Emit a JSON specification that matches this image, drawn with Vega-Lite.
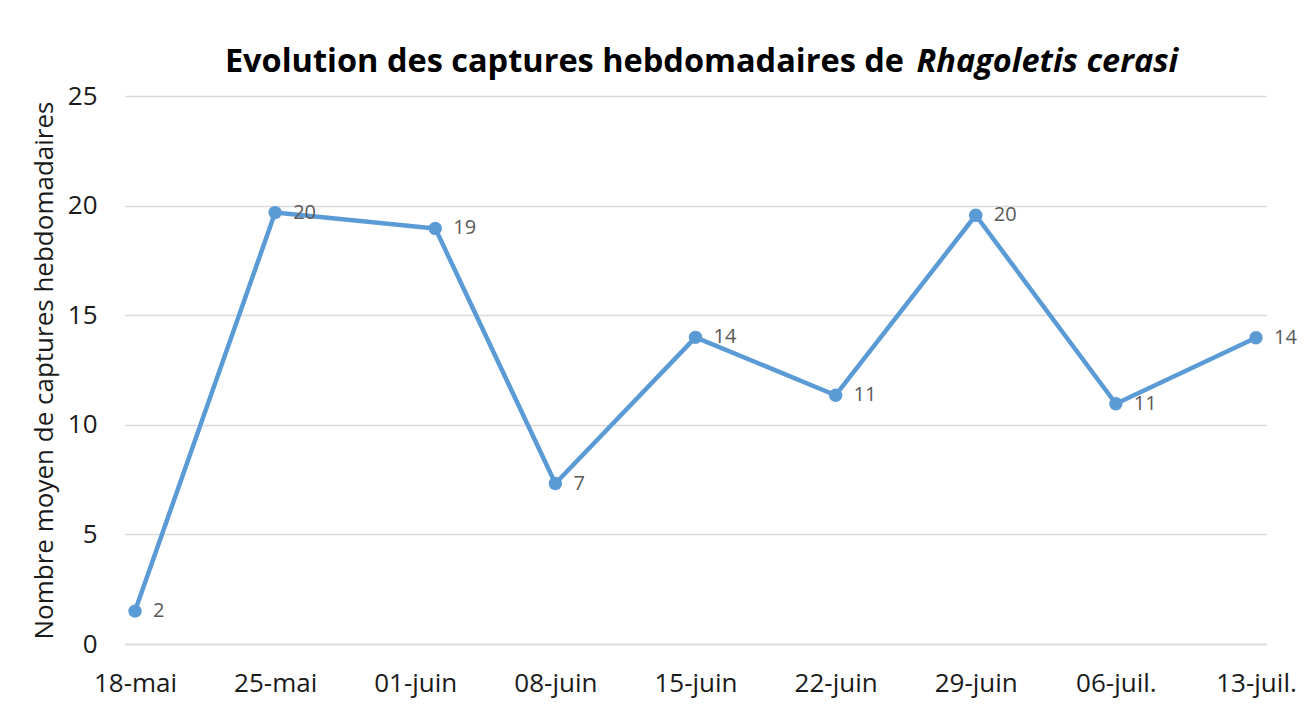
{
  "$schema": "https://vega.github.io/schema/vega-lite/v6.json",
  "width": 1141,
  "height": 548,
  "autosize": {"type": "none"},
  "padding": {"left": 125, "top": 96, "right": 40, "bottom": 71},
  "background": "white",
  "config": {"font": "Open Sans", "view": {"stroke": null}},
  "data": {
    "values": [
      {"date": "2015-05-18", "captures": 1.5},
      {"date": "2015-05-25", "captures": 19.68},
      {"date": "2015-06-02", "captures": 18.96},
      {"date": "2015-06-08", "captures": 7.32},
      {"date": "2015-06-15", "captures": 13.99},
      {"date": "2015-06-22", "captures": 11.35},
      {"date": "2015-06-29", "captures": 19.56},
      {"date": "2015-07-06", "captures": 10.96},
      {"date": "2015-07-13", "captures": 13.97}
    ]
  },
  "layer": [
    {
      "mark": {"type": "line", "color": "#5B9BD5", "strokeWidth": 4.5, "strokeJoin": "round", "strokeCap": "round"},
      "encoding": {
        "x": {
          "field": "date",
          "type": "temporal",
          "scale": {
            "type": "utc",
            "nice": false,
            "domain": [
              {"year": 2015, "month": 5, "date": 17, "hours": 12, "utc": true},
              {"year": 2015, "month": 7, "date": 13, "hours": 12, "utc": true}
            ]
          },
          "axis": {
            "values": [
              {"year": 2015, "month": 5, "date": 18, "utc": true},
              {"year": 2015, "month": 5, "date": 25, "utc": true},
              {"year": 2015, "month": 6, "date": 1, "utc": true},
              {"year": 2015, "month": 6, "date": 8, "utc": true},
              {"year": 2015, "month": 6, "date": 15, "utc": true},
              {"year": 2015, "month": 6, "date": 22, "utc": true},
              {"year": 2015, "month": 6, "date": 29, "utc": true},
              {"year": 2015, "month": 7, "date": 6, "utc": true},
              {"year": 2015, "month": 7, "date": 13, "utc": true}
            ],
            "labelExpr": "utcFormat(datum.value, '%d') + '-' + (utcmonth(datum.value) == 4 ? 'mai' : utcmonth(datum.value) == 5 ? 'juin' : 'juil.')",
            "title": null,
            "grid": false,
            "ticks": false,
            "domainColor": "#d9d9d9",
            "domainWidth": 1.3,
            "labelFont": "Open Sans",
            "labelFontSize": 26,
            "labelColor": "#1a1a1a",
            "labelPadding": 26,
            "labelFlush": false,
            "labelOverlap": false
          }
        },
        "y": {
          "field": "captures",
          "type": "quantitative",
          "scale": {"domain": [0, 25], "nice": false},
          "axis": {
            "values": [0, 5, 10, 15, 20, 25],
            "title": "Nombre moyen de captures hebdomadaires",
            "titleFont": "Open Sans",
            "titleFontSize": 26,
            "titleFontWeight": "normal",
            "titleColor": "#1a1a1a",
            "titlePadding": 10,
            "grid": true,
            "gridColor": "#d9d9d9",
            "gridWidth": 1.3,
            "domain": false,
            "ticks": false,
            "labelFont": "Open Sans",
            "labelFontSize": 26,
            "labelColor": "#1a1a1a",
            "labelPadding": 28
          }
        }
      }
    },
    {
      "mark": {"type": "point", "filled": true, "size": 180, "color": "#5B9BD5", "opacity": 1},
      "encoding": {
        "x": {"field": "date", "type": "temporal"},
        "y": {"field": "captures", "type": "quantitative"}
      }
    },
    {
      "mark": {"type": "text", "align": "left", "baseline": "middle", "dx": 18, "fontSize": 20, "color": "#595959", "font": "Open Sans"},
      "encoding": {
        "x": {"field": "date", "type": "temporal"},
        "y": {"field": "captures", "type": "quantitative"},
        "text": {"field": "captures", "type": "quantitative", "format": ".0f"}
      }
    },
    {
      "data": {"values": [{"t": "Evolution des captures hebdomadaires de"}]},
      "mark": {"type": "text", "align": "right", "baseline": "alphabetic", "dy": -24, "fontSize": 32.5, "fontWeight": "bold", "color": "#000000", "font": "Open Sans"},
      "encoding": {
        "x": {"datum": {"year": 2015, "month": 6, "date": 25, "hours": 10, "minutes": 0, "utc": true}, "type": "temporal"},
        "y": {"datum": 25, "type": "quantitative"},
        "text": {"field": "t", "type": "nominal"}
      }
    },
    {
      "data": {"values": [{"t": "Rhagoletis cerasi"}]},
      "mark": {"type": "text", "align": "left", "baseline": "alphabetic", "dy": -24, "fontSize": 32.5, "fontWeight": "bold", "fontStyle": "italic", "color": "#000000", "font": "Open Sans"},
      "encoding": {
        "x": {"datum": {"year": 2015, "month": 6, "date": 26, "hours": 1, "minutes": 0, "utc": true}, "type": "temporal"},
        "y": {"datum": 25, "type": "quantitative"},
        "text": {"field": "t", "type": "nominal"}
      }
    }
  ]
}
